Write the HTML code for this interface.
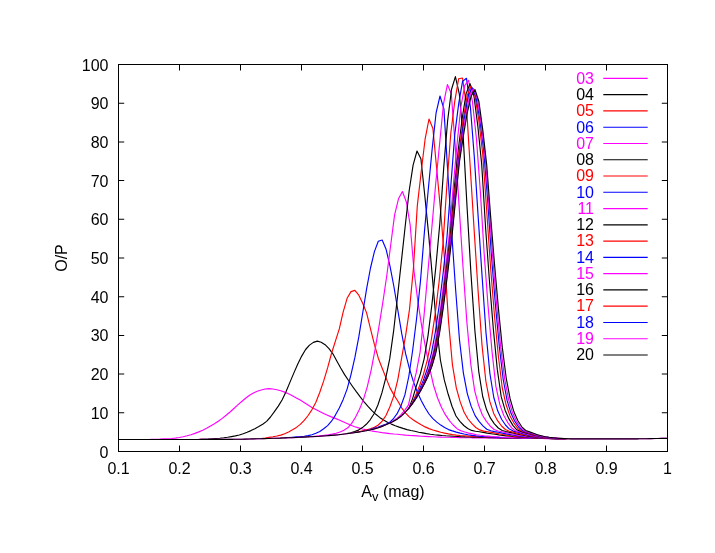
<!DOCTYPE html><html><head><meta charset="utf-8"><style>html,body{margin:0;padding:0;background:#fff}svg{display:block}text{font-family:"Liberation Sans",sans-serif;font-size:16px}</style></head><body>
<svg width="715" height="553" viewBox="0 0 715 553">
<rect width="715" height="553" fill="#fff"/>
<g opacity="0.999">
<g fill="none" stroke-width="1.15" stroke-linejoin="round">
<polyline stroke="#ff00ff" points="148.1,439.5 152.0,439.3 155.9,439.2 159.8,439.1 163.7,438.9 167.6,438.7 171.5,438.5 175.4,438.1 179.3,437.5 183.2,436.8 187.1,435.8 191.0,434.7 194.9,433.4 198.8,431.9 202.7,430.2 206.6,428.3 210.5,426.1 214.4,423.8 218.3,421.2 222.2,418.4 226.1,415.3 230.0,412.0 233.9,408.5 237.8,404.9 241.7,401.5 245.6,398.2 249.5,395.3 253.4,393.1 257.3,391.2 261.2,390.0 265.1,389.0 269.0,388.6 272.9,389.0 276.8,389.7 280.7,390.7 284.6,392.1 288.5,393.7 292.4,395.7 296.3,397.9 300.2,400.1 304.1,402.5 308.0,405.0 311.9,407.4 315.8,409.5 319.7,411.5 323.6,413.4 327.5,415.2 331.4,416.9 335.3,418.4 339.2,420.0 343.1,421.7 347.0,423.5 350.9,425.3 354.8,426.7 358.7,427.9 362.6,429.0 366.5,429.9 370.4,430.7 374.3,431.4 378.2,432.0 382.1,432.6 386.0,433.1 389.9,433.6 393.8,434.0 397.7,434.3 401.6,434.7 405.5,435.1 409.4,435.4 413.3,435.6 417.2,435.9 421.1,436.2 425.0,436.4 428.9,436.6 432.8,436.8 436.7,437.0 440.6,437.1 444.5,437.2 448.4,437.3 452.3,437.4 456.2,437.5 460.1,437.6 464.0,437.7 467.9,437.7 471.8,437.8 475.7,437.8 479.6,437.9 483.5,437.9 487.4,438.0 491.3,438.0 495.2,438.1 499.1,438.1 503.0,438.2 506.9,438.2 510.8,438.2 514.7,438.3 518.6,438.3 522.5,438.3 526.4,438.4 530.3,438.4 534.2,438.4 538.1,438.5 542.0,438.5 545.9,438.6 549.8,438.6 553.7,438.6 557.6,438.7"/>
<polyline stroke="#000000" points="200.3,439.3 204.2,439.2 208.1,439.1 212.0,438.8 215.9,438.5 219.8,438.2 223.7,437.8 227.6,437.3 231.5,436.6 235.4,435.9 239.3,435.0 243.2,433.8 247.1,432.3 251.0,430.6 254.9,428.7 258.8,426.6 262.7,424.3 266.6,421.4 270.5,417.0 274.4,411.7 278.3,406.1 282.2,399.7 286.1,391.5 290.0,382.1 293.9,372.9 297.8,363.9 301.7,356.1 305.6,349.5 309.5,345.1 313.4,342.4 317.3,341.1 321.2,342.2 325.1,344.7 329.0,348.7 332.9,353.8 336.8,361.0 340.7,368.0 344.6,374.6 348.5,380.5 352.4,386.2 356.3,391.7 360.2,396.9 364.1,401.8 368.0,406.4 371.9,410.7 375.8,414.3 379.7,417.4 383.6,420.0 387.5,422.2 391.4,424.1 395.3,425.7 399.2,427.1 403.1,428.4 407.0,429.6 410.9,430.5 414.8,431.3 418.7,432.2 422.6,432.9 426.5,433.6 430.4,434.2 434.3,434.7 438.2,435.1 442.1,435.5 446.0,435.8 449.9,436.0 453.8,436.3 457.7,436.5 461.6,436.7 465.5,436.9 469.4,437.0 473.3,437.2 477.2,437.3 481.1,437.4 485.0,437.5 488.9,437.6 492.8,437.7 496.7,437.8 500.6,437.9 504.5,437.9 508.4,438.0 512.3,438.0 516.2,438.1 520.1,438.2 524.0,438.2 527.9,438.3 531.8,438.3 535.7,438.4 539.6,438.4 543.5,438.5 547.4,438.5 551.3,438.6 555.2,438.6 559.1,438.7"/>
<polyline stroke="#ff0000" points="261.3,438.5 265.2,438.0 269.1,437.4 273.0,436.8 276.9,436.0 280.8,435.1 284.7,433.7 288.6,431.9 292.5,429.8 296.4,427.4 300.3,424.4 304.2,420.4 308.1,415.5 312.0,409.6 315.9,402.2 319.8,392.2 323.7,380.9 327.6,367.9 331.5,353.5 335.4,341.1 339.3,328.9 343.2,311.8 347.1,298.3 351.0,291.6 354.9,290.4 358.8,295.2 362.7,303.3 366.6,312.9 370.5,328.9 374.4,344.4 378.3,358.2 382.2,368.2 386.1,378.1 390.0,387.9 393.9,394.9 397.8,401.0 401.7,407.9 405.6,413.2 409.5,417.1 413.4,420.0 417.3,422.5 421.2,424.8 425.1,426.9 429.0,428.6 432.9,430.0 436.8,431.1 440.7,432.2 444.6,433.1 448.5,433.9 452.4,434.6 456.3,435.1 460.2,435.5 464.1,435.8 468.0,436.1 471.9,436.4 475.8,436.6 479.7,436.8 483.6,437.0 487.5,437.1 491.4,437.2 495.3,437.4 499.2,437.5 503.1,437.6 507.0,437.7 510.9,437.8 514.8,437.9 518.7,438.0 522.6,438.1 526.5,438.1 530.4,438.2 534.3,438.3 538.2,438.3 542.1,438.4 546.0,438.5 549.9,438.5 553.8,438.6 557.7,438.7 561.6,438.7"/>
<polyline stroke="#0000ff" points="284.7,437.7 288.6,437.5 292.5,437.2 296.4,436.9 300.3,436.6 304.2,436.2 308.1,435.6 312.0,434.7 315.9,433.3 319.8,431.5 323.7,428.8 327.6,425.6 331.5,421.2 335.4,415.1 339.3,407.9 343.2,399.4 347.1,389.1 351.0,374.6 354.9,357.4 358.8,336.9 362.7,313.0 366.6,288.9 370.5,268.0 374.4,251.6 378.3,241.3 382.2,240.0 386.1,249.3 390.0,266.1 393.9,286.5 397.8,310.0 401.7,333.4 405.6,353.7 409.5,368.9 413.4,381.6 417.3,392.0 421.2,400.4 425.1,407.8 429.0,414.0 432.9,418.6 436.8,422.1 440.7,425.1 444.6,427.6 448.5,429.6 452.4,430.9 456.3,432.1 460.2,433.1 464.1,434.0 468.0,434.8 471.9,435.4 475.8,435.9 479.7,436.3 483.6,436.6 487.5,436.8 491.4,437.0 495.3,437.2 499.2,437.4 503.1,437.5 507.0,437.6 510.9,437.7 514.8,437.8 518.7,437.9 522.6,438.0 526.5,438.1 530.4,438.1 534.3,438.2 538.2,438.3 542.1,438.3 546.0,438.4 549.9,438.5 553.8,438.5 557.7,438.6 561.6,438.7"/>
<polyline stroke="#ff00ff" points="312.7,436.5 316.6,436.1 320.5,435.7 324.4,435.2 328.3,434.7 332.2,434.1 336.1,433.3 340.0,432.0 343.9,430.3 347.8,427.8 351.7,423.4 355.6,417.0 359.5,409.3 363.4,399.6 367.3,386.6 371.2,369.8 375.1,349.4 379.0,326.4 382.9,301.9 386.8,275.5 390.7,245.0 394.6,214.9 398.5,198.8 402.4,191.5 406.3,201.7 410.2,225.2 414.1,271.8 418.0,302.4 421.9,327.4 425.8,348.8 429.7,368.4 433.6,385.5 437.5,397.7 441.4,407.2 445.3,414.7 449.2,420.3 453.1,425.0 457.0,428.7 460.9,430.7 464.8,432.0 468.7,433.1 472.6,433.9 476.5,434.7 480.4,435.3 484.3,435.8 488.2,436.1 492.1,436.5 496.0,436.7 499.9,437.0 503.8,437.2 507.7,437.4 511.6,437.5 515.5,437.7 519.4,437.8 523.3,437.9 527.2,438.0 531.1,438.1 535.0,438.1 538.9,438.2 542.8,438.3 546.7,438.3 550.6,438.4 554.5,438.5 558.4,438.6 562.3,438.6 566.2,438.7"/>
<polyline stroke="#000000" points="346.8,433.6 350.7,432.7 354.6,431.6 358.5,430.1 362.4,427.6 366.3,424.3 370.2,419.8 374.1,413.7 378.0,404.8 381.9,392.9 385.8,377.9 389.7,358.9 393.6,331.2 397.5,296.8 401.4,261.1 405.3,225.3 409.2,190.5 413.1,165.2 417.0,151.0 420.9,158.8 424.8,195.8 428.7,234.9 432.6,279.6 436.5,325.8 440.4,360.0 444.3,379.9 448.2,394.3 452.1,406.5 456.0,416.0 459.9,421.4 463.8,425.5 467.7,428.5 471.6,430.4 475.5,431.2 479.4,431.8 483.3,432.4 487.2,433.1 491.1,433.7 495.0,434.3 498.9,434.9 502.8,435.4 506.7,435.9 510.6,436.3 514.5,436.7 518.4,437.0 522.3,437.3 526.2,437.5 530.1,437.8 534.0,438.0 537.9,438.1 541.8,438.3 545.7,438.4 549.6,438.5 553.5,438.6 557.4,438.6 561.3,438.7"/>
<polyline stroke="#ff0000" points="354.9,432.5 358.8,431.7 362.7,430.8 366.6,429.9 370.5,428.7 374.4,427.2 378.3,425.0 382.2,421.1 386.1,415.2 390.0,406.5 393.9,395.6 397.8,379.6 401.7,357.6 405.6,335.7 409.5,309.4 413.4,268.8 417.3,205.9 421.2,171.8 425.1,139.2 429.0,119.0 432.9,128.5 436.8,170.0 440.7,211.8 444.6,260.2 448.5,320.9 452.4,364.6 456.3,387.9 460.2,401.9 464.1,412.2 468.0,419.0 471.9,423.7 475.8,427.5 479.7,429.9 483.6,431.1 487.5,431.7 491.4,432.4 495.3,433.1 499.2,433.8 503.1,434.5 507.0,435.1 510.9,435.7 514.8,436.1 518.7,436.6 522.6,437.0 526.5,437.3 530.4,437.5 534.3,437.8 538.2,438.0 542.1,438.2 546.0,438.3 549.9,438.4 553.8,438.5 557.7,438.6 561.6,438.7"/>
<polyline stroke="#0000ff" points="365.9,430.7 369.8,429.6 373.7,428.4 377.6,427.2 381.5,425.8 385.4,424.4 389.3,422.6 393.2,419.0 397.1,413.7 401.0,405.8 404.9,394.9 408.8,376.5 412.7,350.0 416.6,318.5 420.5,280.8 424.4,232.1 428.3,189.3 432.2,148.6 436.1,112.8 440.0,96.0 443.9,108.9 447.8,172.5 451.7,232.7 455.6,289.2 459.5,340.0 463.4,373.1 467.3,393.6 471.2,406.4 475.1,415.6 479.0,421.4 482.9,425.9 486.8,429.2 490.7,430.8 494.6,431.6 498.5,432.3 502.4,433.1 506.3,433.9 510.2,434.6 514.1,435.3 518.0,435.9 521.9,436.4 525.8,436.8 529.7,437.2 533.6,437.5 537.5,437.8 541.4,438.0 545.3,438.2 549.2,438.3 553.1,438.4 557.0,438.6 560.9,438.7 564.8,438.7"/>
<polyline stroke="#ff00ff" points="388.9,423.3 392.8,421.2 396.7,418.6 400.6,415.2 404.5,410.7 408.4,405.2 412.3,388.2 416.2,372.9 420.1,352.0 424.0,315.9 427.9,271.8 431.8,228.3 435.7,183.8 439.6,143.9 443.5,103.9 447.4,84.6 451.3,93.7 455.2,145.6 459.1,205.9 463.0,267.0 466.9,322.6 470.8,364.3 474.7,390.9 478.6,405.3 482.5,415.2 486.4,421.4 490.3,426.2 494.2,429.5 498.1,431.0 502.0,431.8 505.9,432.6 509.8,433.5 513.7,434.3 517.6,435.1 521.5,435.7 525.4,436.3 529.3,436.8 533.2,437.2 537.1,437.5 541.0,437.8 544.9,438.1 548.8,438.2 552.7,438.4 556.6,438.5 560.5,438.6 564.4,438.7"/>
<polyline stroke="#000000" points="408.6,408.9 412.5,398.9 416.4,385.8 420.3,374.0 424.2,358.6 428.1,335.1 432.0,303.7 435.9,266.3 439.8,223.8 443.7,167.9 447.6,121.0 451.5,89.5 455.4,76.6 459.3,93.8 463.2,136.9 467.1,207.7 471.0,274.1 474.9,330.8 478.8,371.8 482.7,396.5 486.6,409.8 490.5,418.2 494.4,423.8 498.3,428.0 502.2,430.5 506.1,431.5 510.0,432.4 513.9,433.3 517.8,434.2 521.7,435.0 525.6,435.8 529.5,436.4 533.4,436.9 537.3,437.3 541.2,437.6 545.1,437.9 549.0,438.2 552.9,438.3 556.8,438.5 560.7,438.6 564.6,438.7"/>
<polyline stroke="#ff0000" points="407.9,409.5 411.8,403.8 415.7,395.3 419.6,385.6 423.5,374.2 427.4,359.6 431.3,339.8 435.2,313.9 439.1,281.8 443.0,243.5 446.9,184.7 450.8,133.3 454.7,101.7 458.6,78.8 462.5,78.0 466.4,105.2 470.3,168.2 474.2,230.9 478.1,291.1 482.0,345.1 485.9,381.5 489.8,401.4 493.7,413.4 497.6,420.7 501.5,426.0 505.4,429.5 509.3,431.2 513.2,432.1 517.1,433.1 521.0,434.1 524.9,435.0 528.8,435.7 532.7,436.4 536.6,436.9 540.5,437.4 544.4,437.7 548.3,438.0 552.2,438.2 556.1,438.4 560.0,438.6 563.9,438.7"/>
<polyline stroke="#0000ff" points="408.0,409.3 411.9,404.0 415.8,397.1 419.7,388.9 423.6,379.6 427.5,368.2 431.4,353.3 435.3,332.3 439.2,305.5 443.1,273.5 447.0,237.0 450.9,184.7 454.8,134.1 458.7,103.6 462.6,81.2 466.5,78.3 470.4,107.0 474.3,156.9 478.2,217.4 482.1,276.4 486.0,332.9 489.9,373.5 493.8,397.5 497.7,410.8 501.6,419.2 505.5,425.0 509.4,429.1 513.3,431.1 517.2,432.0 521.1,433.1 525.0,434.2 528.9,435.1 532.8,435.9 536.7,436.6 540.6,437.1 544.5,437.5 548.4,437.9 552.3,438.2 556.2,438.4 560.1,438.5 564.0,438.7"/>
<polyline stroke="#ff00ff" points="410.1,406.7 414.0,401.0 417.9,394.2 421.8,386.4 425.7,377.6 429.6,366.5 433.5,351.7 437.4,330.2 441.3,302.7 445.2,270.9 449.1,236.1 453.0,189.3 456.9,145.8 460.8,107.3 464.7,85.6 468.6,80.3 472.5,102.2 476.4,138.2 480.3,190.9 484.2,254.1 488.1,306.5 492.0,351.2 495.9,386.4 499.8,404.4 503.7,415.2 507.6,422.3 511.5,427.7 515.4,430.7 519.3,431.8 523.2,432.9 527.1,434.0 531.0,435.1 534.9,435.9 538.8,436.6 542.7,437.2 546.6,437.6 550.5,438.0 554.4,438.2 558.3,438.4 562.2,438.6 566.1,438.7"/>
<polyline stroke="#000000" points="411.5,404.8 415.4,399.0 419.3,392.1 423.2,384.5 427.1,375.6 431.0,364.4 434.9,349.0 438.8,326.5 442.7,298.4 446.6,266.5 450.5,232.3 454.4,186.7 458.3,149.5 462.2,118.3 466.1,93.6 470.0,83.6 473.9,95.8 477.8,125.9 481.7,164.4 485.6,228.0 489.5,281.8 493.4,329.8 497.3,369.4 501.2,396.7 505.1,410.2 509.0,418.9 512.9,425.4 516.8,429.8 520.7,431.4 524.6,432.6 528.5,433.8 532.4,434.9 536.3,435.8 540.2,436.6 544.1,437.2 548.0,437.6 551.9,438.0 555.8,438.3 559.7,438.5 563.6,438.6 567.5,438.7"/>
<polyline stroke="#ff0000" points="416.4,397.6 420.3,390.7 424.2,383.2 428.1,374.4 432.0,363.3 435.9,347.6 439.8,324.5 443.7,295.8 447.6,263.6 451.5,229.6 455.4,185.4 459.3,149.9 463.2,119.7 467.1,95.8 471.0,86.0 474.9,95.6 478.8,120.2 482.7,153.6 486.6,209.3 490.5,266.5 494.4,314.8 498.3,355.5 502.2,387.5 506.1,404.8 510.0,415.9 513.9,423.1 517.8,428.4 521.7,431.0 525.6,432.2 529.5,433.4 533.4,434.6 537.3,435.7 541.2,436.5 545.1,437.1 549.0,437.6 552.9,438.0 556.8,438.3 560.7,438.5 564.6,438.6 568.5,438.8"/>
<polyline stroke="#0000ff" points="417.4,396.0 421.3,389.1 425.2,381.6 429.1,372.7 433.0,361.3 436.9,344.6 440.8,320.6 444.7,291.3 448.6,259.1 452.5,224.7 456.4,181.2 460.3,148.0 464.2,119.2 468.1,96.6 472.0,87.5 475.9,96.4 479.8,119.2 483.7,150.4 487.6,199.1 491.5,256.5 495.4,304.6 499.3,346.4 503.2,379.5 507.1,400.4 511.0,413.3 514.9,421.4 518.8,427.2 522.7,430.6 526.6,431.9 530.5,433.2 534.4,434.5 538.3,435.6 542.2,436.4 546.1,437.1 550.0,437.6 553.9,438.0 557.8,438.3 561.7,438.5 565.6,438.7"/>
<polyline stroke="#ff00ff" points="118.5,439.5 118.6,439.5 122.5,439.5 126.4,439.5 130.3,439.5 134.2,439.5 138.1,439.5 142.0,439.5 145.9,439.5 149.8,439.5 153.7,439.5 157.6,439.5 161.5,439.5 165.4,439.5 169.3,439.5 173.2,439.5 177.1,439.5 181.0,439.5 184.9,439.5 188.8,439.5 192.7,439.5 196.6,439.5 200.5,439.4 204.4,439.4 208.3,439.4 212.2,439.4 216.1,439.4 220.0,439.4 223.9,439.3 227.8,439.3 231.7,439.3 235.6,439.2 239.5,439.2 243.4,439.2 247.3,439.1 251.2,439.0 255.1,438.9 259.0,438.8 262.9,438.6 266.8,438.5 270.7,438.4 274.6,438.3 278.5,438.1 282.4,438.0 286.3,437.9 290.2,437.7 294.1,437.6 298.0,437.4 301.9,437.2 305.8,437.0 309.7,436.8 313.6,436.6 317.5,436.4 321.4,436.1 325.3,435.8 329.2,435.6 333.1,435.3 337.0,434.9 340.9,434.5 344.8,434.0 348.7,433.5 352.6,432.9 356.5,432.3 360.4,431.7 364.3,431.0 368.2,430.3 372.1,429.4 376.0,428.4 379.9,427.1 383.8,425.6 387.7,424.0 391.6,422.2 395.5,420.1 399.4,417.6 403.3,414.2 407.2,410.2 411.1,405.4 415.0,399.9 418.9,393.6 422.8,386.6 426.7,378.9 430.6,369.4 434.5,357.1 438.4,338.1 442.3,312.4 446.2,282.1 450.1,249.6 454.0,213.0 457.9,170.6 461.8,141.7 465.7,115.7 469.6,96.2 473.5,88.5 477.4,98.8 481.3,124.4 485.2,157.4 489.1,208.3 493.0,260.6 496.9,307.3 500.8,347.9 504.7,379.1 508.6,399.5 512.5,412.7 516.4,421.1 520.3,427.1 524.2,430.6 528.1,432.0 532.0,433.3 535.9,434.6 539.8,435.7 543.7,436.6 547.6,437.2 551.5,437.7 555.4,438.1 559.3,438.4 563.2,438.6 567.1,438.7 571.0,438.8 574.9,438.8 578.8,438.8 582.7,438.8 586.6,438.8 590.5,438.8 594.4,438.8 598.3,438.8 602.2,438.8 606.1,438.8 610.0,438.8 613.9,438.8 617.8,438.8 621.7,438.8 625.6,438.8 629.5,438.8 633.4,438.8 637.3,438.8 641.2,438.7 645.1,438.7 649.0,438.6 652.9,438.6 656.8,438.5 660.7,438.4 664.6,438.4 667.5,438.3"/>
<polyline stroke="#000000" points="118.5,439.5 120.1,439.5 124.0,439.5 127.9,439.5 131.8,439.5 135.7,439.5 139.6,439.5 143.5,439.5 147.4,439.5 151.3,439.5 155.2,439.5 159.1,439.5 163.0,439.5 166.9,439.5 170.8,439.5 174.7,439.5 178.6,439.5 182.5,439.5 186.4,439.5 190.3,439.5 194.2,439.5 198.1,439.5 202.0,439.4 205.9,439.4 209.8,439.4 213.7,439.4 217.6,439.4 221.5,439.4 225.4,439.3 229.3,439.3 233.2,439.3 237.1,439.2 241.0,439.2 244.9,439.1 248.8,439.0 252.7,438.9 256.6,438.8 260.5,438.7 264.4,438.6 268.3,438.5 272.2,438.3 276.1,438.2 280.0,438.1 283.9,437.9 287.8,437.8 291.7,437.7 295.6,437.5 299.5,437.3 303.4,437.1 307.3,436.9 311.2,436.7 315.1,436.5 319.0,436.3 322.9,436.0 326.8,435.7 330.7,435.4 334.6,435.1 338.5,434.8 342.4,434.3 346.3,433.8 350.2,433.3 354.1,432.7 358.0,432.1 361.9,431.5 365.8,430.8 369.7,430.0 373.6,429.1 377.5,428.0 381.4,426.6 385.3,425.0 389.2,423.3 393.1,421.4 397.0,419.2 400.9,416.3 404.8,412.7 408.7,408.4 412.6,403.4 416.5,397.6 420.4,391.0 424.3,384.0 428.2,375.9 432.1,365.9 436.0,352.2 439.9,331.0 443.8,303.8 447.7,272.9 451.6,240.3 455.5,200.8 459.4,162.1 463.3,136.3 467.2,113.0 471.1,96.1 475.0,89.6 478.9,101.5 482.8,130.1 486.7,164.7 490.6,216.1 494.5,264.0 498.4,308.4 502.3,347.4 506.2,378.0 510.1,398.7 514.0,412.1 517.9,420.7 521.8,426.8 525.7,430.5 529.6,431.9 533.5,433.3 537.4,434.7 541.3,435.8 545.2,436.7 549.1,437.3 553.0,437.8 556.9,438.2 560.8,438.4 564.7,438.6 568.6,438.8 572.5,438.8 576.4,438.8 580.3,438.8 584.2,438.8 588.1,438.8 592.0,438.8 595.9,438.8 599.8,438.8 603.7,438.8 607.6,438.8 611.5,438.8 615.4,438.8 619.3,438.8 623.2,438.8 627.1,438.8 631.0,438.8 634.9,438.8 638.8,438.8 642.7,438.7 646.6,438.7 650.5,438.6 654.4,438.5 658.3,438.5 662.2,438.4 666.1,438.3 667.5,438.3"/>
</g>
<g stroke="#000" stroke-width="1" fill="none" shape-rendering="crispEdges">
<rect x="118.5" y="64.5" width="549" height="387"/>
</g><g fill="#000" stroke="none"><path d="M179 451h1v-5.5h-1z M179 65h1v5.5h-1z M240 451h1v-5.5h-1z M240 65h1v5.5h-1z M301 451h1v-5.5h-1z M301 65h1v5.5h-1z M362 451h1v-5.5h-1z M362 65h1v5.5h-1z M423 451h1v-5.5h-1z M423 65h1v5.5h-1z M484 451h1v-5.5h-1z M484 65h1v5.5h-1z M545 451h1v-5.5h-1z M545 65h1v5.5h-1z M606 451h1v-5.5h-1z M606 65h1v5.5h-1z M119 412.30v1h5.2v-1z M667 412.30v1h-5.2v-1z M119 373.60v1h5.2v-1z M667 373.60v1h-5.2v-1z M119 334.90v1h5.2v-1z M667 334.90v1h-5.2v-1z M119 296.20v1h5.2v-1z M667 296.20v1h-5.2v-1z M119 257.50v1h5.2v-1z M667 257.50v1h-5.2v-1z M119 218.80v1h5.2v-1z M667 218.80v1h-5.2v-1z M119 180.10v1h5.2v-1z M667 180.10v1h-5.2v-1z M119 141.40v1h5.2v-1z M667 141.40v1h-5.2v-1z M119 102.70v1h5.2v-1z M667 102.70v1h-5.2v-1z "/>
</g>
<g fill="#000">
<text transform="translate(108.50,457.50) scale(1,1)" text-anchor="end">0</text>
<text transform="translate(108.50,418.80) scale(1,1)" text-anchor="end">10</text>
<text transform="translate(108.50,380.10) scale(1,1)" text-anchor="end">20</text>
<text transform="translate(108.50,341.40) scale(1,1)" text-anchor="end">30</text>
<text transform="translate(108.50,302.70) scale(1,1)" text-anchor="end">40</text>
<text transform="translate(108.50,264.00) scale(1,1)" text-anchor="end">50</text>
<text transform="translate(108.50,225.30) scale(1,1)" text-anchor="end">60</text>
<text transform="translate(108.50,186.60) scale(1,1)" text-anchor="end">70</text>
<text transform="translate(108.50,147.90) scale(1,1)" text-anchor="end">80</text>
<text transform="translate(108.50,109.20) scale(1,1)" text-anchor="end">90</text>
<text transform="translate(108.50,70.50) scale(1,1)" text-anchor="end">100</text>
<text transform="translate(118.50,474.00) scale(1,1)" text-anchor="middle">0.1</text>
<text transform="translate(179.50,474.00) scale(1,1)" text-anchor="middle">0.2</text>
<text transform="translate(240.50,474.00) scale(1,1)" text-anchor="middle">0.3</text>
<text transform="translate(301.50,474.00) scale(1,1)" text-anchor="middle">0.4</text>
<text transform="translate(362.50,474.00) scale(1,1)" text-anchor="middle">0.5</text>
<text transform="translate(423.50,474.00) scale(1,1)" text-anchor="middle">0.6</text>
<text transform="translate(484.50,474.00) scale(1,1)" text-anchor="middle">0.7</text>
<text transform="translate(545.50,474.00) scale(1,1)" text-anchor="middle">0.8</text>
<text transform="translate(606.50,474.00) scale(1,1)" text-anchor="middle">0.9</text>
<text transform="translate(667.50,474.00) scale(1,1)" text-anchor="middle">1</text>
<text transform="translate(393.00,496.50) scale(1,1)" text-anchor="middle">A<tspan dy="4.8" font-size="13">v</tspan><tspan dy="-4.8"> (mag)</tspan></text>
<text transform="translate(67.00,258.00) rotate(-90) scale(1,1)" text-anchor="middle">O/P</text>
</g>
<text transform="translate(594.00,83.70) scale(1,1)" text-anchor="end" fill="#ff00ff">03</text>
<path d="M603.3 78.40H647.7" stroke="#ff00ff" stroke-width="1.15"/>
<text transform="translate(594.00,99.97) scale(1,1)" text-anchor="end" fill="#000000">04</text>
<path d="M603.3 94.67H647.7" stroke="#000000" stroke-width="1.15"/>
<text transform="translate(594.00,116.24) scale(1,1)" text-anchor="end" fill="#ff0000">05</text>
<path d="M603.3 110.94H647.7" stroke="#ff0000" stroke-width="1.15"/>
<text transform="translate(594.00,132.51) scale(1,1)" text-anchor="end" fill="#0000ff">06</text>
<path d="M603.3 127.21H647.7" stroke="#0000ff" stroke-width="1.15"/>
<text transform="translate(594.00,148.78) scale(1,1)" text-anchor="end" fill="#ff00ff">07</text>
<path d="M603.3 143.48H647.7" stroke="#ff00ff" stroke-width="1.15"/>
<text transform="translate(594.00,165.05) scale(1,1)" text-anchor="end" fill="#000000">08</text>
<path d="M603.3 159.75H647.7" stroke="#000000" stroke-width="1.15"/>
<text transform="translate(594.00,181.32) scale(1,1)" text-anchor="end" fill="#ff0000">09</text>
<path d="M603.3 176.02H647.7" stroke="#ff0000" stroke-width="1.15"/>
<text transform="translate(594.00,197.59) scale(1,1)" text-anchor="end" fill="#0000ff">10</text>
<path d="M603.3 192.29H647.7" stroke="#0000ff" stroke-width="1.15"/>
<text transform="translate(594.00,213.86) scale(1,1)" text-anchor="end" fill="#ff00ff">11</text>
<path d="M603.3 208.56H647.7" stroke="#ff00ff" stroke-width="1.15"/>
<text transform="translate(594.00,230.13) scale(1,1)" text-anchor="end" fill="#000000">12</text>
<path d="M603.3 224.83H647.7" stroke="#000000" stroke-width="1.15"/>
<text transform="translate(594.00,246.40) scale(1,1)" text-anchor="end" fill="#ff0000">13</text>
<path d="M603.3 241.10H647.7" stroke="#ff0000" stroke-width="1.15"/>
<text transform="translate(594.00,262.67) scale(1,1)" text-anchor="end" fill="#0000ff">14</text>
<path d="M603.3 257.37H647.7" stroke="#0000ff" stroke-width="1.15"/>
<text transform="translate(594.00,278.94) scale(1,1)" text-anchor="end" fill="#ff00ff">15</text>
<path d="M603.3 273.64H647.7" stroke="#ff00ff" stroke-width="1.15"/>
<text transform="translate(594.00,295.21) scale(1,1)" text-anchor="end" fill="#000000">16</text>
<path d="M603.3 289.91H647.7" stroke="#000000" stroke-width="1.15"/>
<text transform="translate(594.00,311.48) scale(1,1)" text-anchor="end" fill="#ff0000">17</text>
<path d="M603.3 306.18H647.7" stroke="#ff0000" stroke-width="1.15"/>
<text transform="translate(594.00,327.75) scale(1,1)" text-anchor="end" fill="#0000ff">18</text>
<path d="M603.3 322.45H647.7" stroke="#0000ff" stroke-width="1.15"/>
<text transform="translate(594.00,344.02) scale(1,1)" text-anchor="end" fill="#ff00ff">19</text>
<path d="M603.3 338.72H647.7" stroke="#ff00ff" stroke-width="1.15"/>
<text transform="translate(594.00,360.29) scale(1,1)" text-anchor="end" fill="#000000">20</text>
<path d="M603.3 354.99H647.7" stroke="#000000" stroke-width="1.15"/>
</g>
</svg></body></html>
